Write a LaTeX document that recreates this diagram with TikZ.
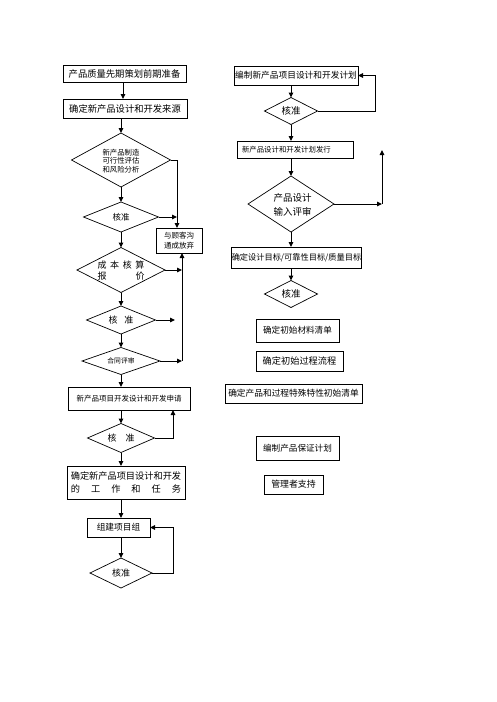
\documentclass[tikz,border=0pt]{standalone}
\usepackage{fontspec}
\newfontfamily\cjk{Noto Sans CJK SC}
\usetikzlibrary{shapes.geometric,arrows.meta}
\begin{document}
\begin{tikzpicture}[x=1pt,y=-1pt,
  fz/.style 2 args={font=\cjk\fontsize{#1}{#2}\selectfont},
  box/.style={draw,line width=0.7pt,inner sep=0pt,outer sep=0pt,align=center},
  dia/.style={draw,diamond,line width=0.7pt,inner sep=0pt,outer sep=0pt},
  dtxt/.style={inner sep=0pt,align=center},
  arr/.style={line width=1pt,-{Triangle[length=5pt,width=4.5pt]}}
]
\useasboundingbox[fill=white] (0,0) rectangle (496,702);

% ---------- left column ----------
\node[box,fz={9.3}{11},minimum width=123pt,minimum height=17pt] (n1) at (124.5,73.5) {产品质量先期策划前期准备};
\node[box,fz={9.3}{11},minimum width=124pt,minimum height=19pt] (n2) at (125,108.5) {确定新产品设计和开发来源};
\node[dia,minimum width=99pt,minimum height=54pt] (d1) at (121,160) {};
\node[dtxt,fz={7.4}{8.6}] (d1t) at (121,161) {新产品制造\\可行性评估\\和风险分析};
\node[dia,minimum width=75pt,minimum height=30pt] (d2) at (121,217) {};
\node[dtxt,fz={8.5}{10}] (d2t) at (d2) {核准};
\node[box,fz={7.5}{10.5},minimum width=46pt,minimum height=25pt] (kc) at (179,240.5) {与顾客沟\\通成放弃};
\node[dia,minimum width=88pt,minimum height=45pt] (d3) at (121,270) {};
\node[dtxt,fz={9}{11}] (d3t) at (121,271) {\makebox[47pt]{成\hfill 本\hfill 核\hfill 算}\\\makebox[47pt]{报\hfill 价}};
\node[dia,minimum width=69pt,minimum height=28pt] (d4) at (121,320) {};
\node[dtxt,fz={9}{10}] (d4t) at (d4) {核\hspace{7pt}准};
\node[dia,minimum width=78pt,minimum height=27pt] (d5) at (121,361) {};
\node[dtxt,fz={6.8}{8}] (d5t) at (d5) {合同评审};
\node[box,fz={7.5}{9},minimum width=122pt,minimum height=23pt] (n3) at (129,398.5) {新产品项目开发设计和开发申请};
\node[dia,minimum width=67pt,minimum height=29pt] (d6) at (121,438) {};
\node[dtxt,fz={9}{10}] (d6t) at (d6) {核\hspace{9pt}准};
\node[box,fz={9.2}{12.7},minimum width=118pt,minimum height=33pt] (n4) at (126,482.5) {确定新产品项目设计和开发\\\makebox[110pt]{的\hfill 工\hfill 作\hfill 和\hfill 任\hfill 务}};
\node[box,fz={8.7}{10},minimum width=63pt,minimum height=19pt] (zj) at (118.5,527.5) {组建项目组};
\node[dia,minimum width=62pt,minimum height=30pt] (d7) at (121,573) {};
\node[dtxt,fz={9}{10}] (d7t) at (d7) {核准};

\coordinate (va) at (177,228);
\coordinate (vb) at (182,361);
\coordinate (c4) at (175,320);
\coordinate (c6) at (173,410);
\coordinate (c7) at (173,527.5);

\draw[arr] (n1.south -| 123,0) -- (n2.north -| 123,0);
\draw[arr] (n2.south -| d1.north) -- (d1.north);
\draw[arr] (d1.south) -- (d2.north);
\draw[arr] (d2.south) -- (d3.north);
\draw[arr] (d3.south) -- (d4.north);
\draw[arr] (d4.south) -- (d5.north);
\draw[arr] (d5.south) -- (d5.south |- n3.north);
\draw[arr] (n3.south -| d6.north) -- (d6.north);
\draw[arr] (d6.south) -- (d6.south |- n4.north);
\draw[arr] (n4.south -| d7.north) -- (zj.north -| d7.north);
\draw[arr] (zj.south -| d7.north) -- (d7.north);

\draw[arr] (d1.east) -| (va);
\draw[arr] (d2.east) -- (d2.east -| va);
\draw[arr] (d3.east) -- (d3.east -| vb);
\draw[arr] (d4.east) -- (c4);
\draw[arr] (d5.east) -- (vb);
\draw[arr] (vb) -- (vb |- kc.south);
\draw[arr] (d6.east) -| (c6);
\draw[arr] (d7.east) -| (c7) -- (zj.east);

% ---------- right column ----------
\node[box,fz={8.7}{10},minimum width=124pt,minimum height=19pt] (r1) at (296,75.5) {编制新产品项目设计和开发计划};
\node[dia,minimum width=53pt,minimum height=27pt] (rd1) at (291,111) {};
\node[dtxt,fz={9.5}{10}] (rd1t) at (rd1) {核准};
\node[box,fz={7.4}{9},text width=106pt,inner xsep=5pt,align=left,minimum height=17pt] (r2) at (295,149.5) {新产品设计和开发计划发行};
\node[dia,minimum width=86pt,minimum height=56pt] (rd2) at (291,204) {};
\node[dtxt,fz={9.5}{13.5}] (rd2t) at (292.5,205) {产品设计\\输入评审};
\node[box,fz={8.2}{10},minimum width=125pt,minimum height=21pt] (r3) at (296.5,257.5) {确定设计目标/可靠性目标/质量目标};
\node[dia,minimum width=53pt,minimum height=27pt] (rd3) at (291,294) {};
\node[dtxt,fz={9.5}{10}] (rd3t) at (rd3) {核准};
\node[box,fz={8.6}{10},minimum width=83pt,minimum height=23pt] (b1) at (297.5,330.5) {确定初始材料清单};
\node[box,fz={9.2}{10},minimum width=87pt,minimum height=20pt] (b2) at (299.5,361) {确定初始过程流程};
\node[box,fz={8.7}{10},minimum width=137pt,minimum height=19pt] (b3) at (293.5,393.5) {确定产品和过程特殊特性初始清单};
\node[box,fz={8.6}{10},minimum width=83pt,minimum height=24pt] (b4) at (297.5,448) {编制产品保证计划};
\node[box,fz={8.9}{10},minimum width=59pt,minimum height=19pt] (b5) at (293.5,484.5) {管理者支持};

\coordinate (rc1) at (375,75.5);
\coordinate (rv) at (382,204);
\coordinate (rtop) at (382,150);

\draw[arr] (r1.south -| rd1.north) -- (rd1.north);
\draw[arr] (rd1.south) -- (rd1.south |- r2.north);
\draw[arr] (r2.south -| rd2.north) -- (rd2.north);
\draw[arr] (rd2.south) -- (rd2.south |- r3.north);
\draw[arr] (r3.south -| rd3.north) -- (rd3.north);

\draw[arr] (rd1.east) -| (rc1) -- (r1.east);
\draw[arr] (rd2.east) -- (rv);
\draw[arr] (rv) -- (rtop);
\end{tikzpicture}
\end{document}
